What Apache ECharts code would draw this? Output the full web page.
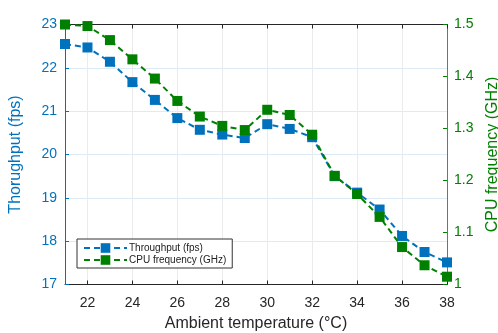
<!DOCTYPE html>
<html>
<head>
<meta charset="utf-8">
<script src="https://cdn.jsdelivr.net/npm/echarts@6/dist/echarts.min.js"></script>
<style>
html, body { margin: 0; padding: 0; background: #fff; }
#chart { width: 498px; height: 333px; }
</style>
</head>
<body>
<div id="chart"></div>
<script>
// 环境温度 (°C)
var temps = [21, 22, 23, 24, 25, 26, 27, 28, 29, 30, 31, 32, 33, 34, 35, 36, 37, 38]
// 吞吐量 (fps)
var throughput = [22.55, 22.47, 22.14, 21.67, 21.26, 20.84, 20.57, 20.46, 20.38, 20.70, 20.59, 20.40, 19.50, 19.12, 18.73, 18.12, 17.75, 17.51]
// CPU 频率 (GHz)
var cpuFreq = [1.5, 1.497, 1.470, 1.433, 1.396, 1.353, 1.323, 1.305, 1.297, 1.336, 1.326, 1.288, 1.209, 1.174, 1.130, 1.072, 1.037, 1.015]
// x 轴刻度
var xTicks = [22, 24, 26, 28, 30, 32, 34, 36, 38]

var blue = '#0072BD'
var green = '#008000'
var font = 'Liberation Sans, Arial, sans-serif'

var chart = echarts.init(document.getElementById('chart'))
var option = {
    animation: false,
    textStyle: { fontFamily: font },
    grid: {
        left: 65,
        right: 51,
        top: 24.5,
        bottom: 48.5,
        outerBoundsMode: 'none' // 不自动收缩网格
    },
    legend: {
        orient: 'vertical',
        left: 77,
        top: 239,
        padding: [4, 6, 3, 6],
        itemGap: 2,
        itemWidth: 43,
        itemHeight: 12,
        backgroundColor: '#fff',
        borderColor: '#333',
        borderWidth: 1,
        borderRadius: 0,
        textStyle: { fontSize: 10, color: '#222', fontFamily: font, padding: [0, 0, 0, -3] },
        data: ['Throughput (fps)', 'CPU frequency (GHz)']
    },
    xAxis: [
        {
            type: 'value',
            min: 21,
            max: 38,
            name: 'Ambient temperature (°C)',
            nameLocation: 'middle',
            nameGap: 29,
            nameTextStyle: { fontSize: 16, color: '#262626' },
            axisLine: { lineStyle: { color: '#262626', width: 1 } },
            axisTick: { inside: true, length: 4, customValues: xTicks, lineStyle: { color: '#262626' } },
            axisLabel: { customValues: xTicks, fontSize: 14, color: '#262626', margin: 12 },
            splitLine: { show: true, lineStyle: { color: '#ebebeb', width: 1 } }
        },
        {
            type: 'value',
            position: 'top',
            min: 21,
            max: 38,
            axisLine: { lineStyle: { color: '#262626', width: 1 } },
            axisTick: { inside: true, length: 4, customValues: xTicks, lineStyle: { color: '#262626' } },
            axisLabel: { show: false },
            splitLine: { show: false }
        }
    ],
    yAxis: [
        {
            type: 'value',
            min: 17,
            max: 23,
            interval: 1,
            name: 'Thorughput (fps)',
            nameLocation: 'middle',
            nameGap: 41,
            nameTextStyle: { fontSize: 16, color: blue },
            axisLine: { show: true, lineStyle: { color: blue, width: 1 } },
            axisTick: { show: true, inside: true, length: 4, lineStyle: { color: blue } },
            axisLabel: { fontSize: 14, color: blue, margin: 8 },
            splitLine: { show: true, lineStyle: { color: '#dcebf6', width: 1 } }
        },
        {
            type: 'value',
            min: 1,
            max: 1.5,
            interval: 0.1,
            name: 'CPU frequency (GHz)',
            nameLocation: 'middle',
            nameGap: 34,
            nameRotate: 90,
            nameTextStyle: { fontSize: 16, color: green },
            axisLine: { show: true, lineStyle: { color: '#3a9a3a', width: 1 } },
            axisTick: { show: true, inside: true, length: 4, lineStyle: { color: green } },
            axisLabel: { fontSize: 14, color: green, margin: 7 },
            splitLine: { show: false }
        }
    ],
    series: [
        {
            name: 'Throughput (fps)',
            type: 'line',
            xAxisIndex: 0,
            yAxisIndex: 0,
            data: temps.map(function (t, i) { return [t, throughput[i]] }),
            symbol: 'rect',
            symbolSize: 10,
            color: blue,
            lineStyle: { color: blue, width: 2, type: [6, 4] },
            itemStyle: { color: blue }
        },
        {
            name: 'CPU frequency (GHz)',
            type: 'line',
            xAxisIndex: 0,
            yAxisIndex: 1,
            data: temps.map(function (t, i) { return [t, cpuFreq[i]] }),
            symbol: 'rect',
            symbolSize: 10,
            color: green,
            lineStyle: { color: green, width: 2, type: [6, 4] },
            itemStyle: { color: green }
        }
    ]
}
chart.setOption(option)
</script>
</body>
</html>
